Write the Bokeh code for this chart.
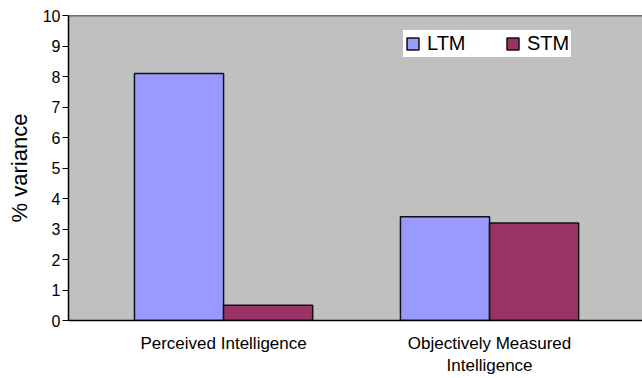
from bokeh.plotting import figure
from bokeh.models import Range1d, FixedTicker, Legend, LegendItem, Span
from bokeh.embed import file_html
from bokeh.resources import INLINE

# ---- data ----
categories = ["Perceived Intelligence", "Objectively Measured\nIntelligence"]
ltm = [8.1, 3.4]
stm = [0.5, 3.2]
series = ["LTM", "STM"]
y_ticks = [0, 1, 2, 3, 4, 5, 6, 7, 8, 9, 10]

# ---- styles ----
colors = ["#9999ff", "#993366"]
bar_w = 0.335
idx = list(range(len(categories)))

p = figure(width=642, height=378, output_backend="svg", toolbar_location=None,
           x_range=Range1d(-0.583, 1.575), y_range=Range1d(0, 10),
           min_border_left=68, min_border_right=0, min_border_top=15,
           min_border_bottom=58)

p.background_fill_color = "#c0c0c0"
p.border_fill_color = "white"
p.outline_line_color = None
p.grid.visible = False

r1 = p.vbar(x=[i - bar_w / 2 for i in idx], top=ltm, width=bar_w,
            fill_color=colors[0], line_color="#111111", line_width=1.5)
r2 = p.vbar(x=[i + bar_w / 2 for i in idx], top=stm, width=bar_w,
            fill_color=colors[1], line_color="#111111", line_width=1.5)

p.add_layout(Span(location=10, dimension="width", line_color="black", line_width=1.5))

# y axis
ya = p.yaxis[0]
ya.ticker = FixedTicker(ticks=y_ticks)
ya.axis_label = "% variance"
ya.axis_label_text_font = "Liberation Sans"
ya.axis_label_text_font_style = "normal"
ya.axis_label_text_font_size = "22px"
ya.axis_label_text_color = "black"
ya.axis_label_standoff = 8
ya.major_label_text_font = "Liberation Sans"
ya.major_label_text_font_size = "16px"
ya.major_label_text_color = "black"
ya.major_tick_in = 0
ya.major_tick_out = 6
ya.minor_tick_in = 0
ya.minor_tick_out = 0
ya.major_label_standoff = 2
ya.axis_line_width = 1.5
ya.axis_line_color = "black"
ya.major_tick_line_color = "black"

# x axis
xa = p.xaxis[0]
xa.ticker = FixedTicker(ticks=idx)
xa.major_label_overrides = {i: c for i, c in zip(idx, categories)}
xa.major_label_text_font = "Liberation Sans"
xa.major_label_text_font_size = "17px"
xa.major_label_text_color = "black"
xa.major_tick_in = 0
xa.major_tick_out = 0
xa.minor_tick_in = 0
xa.minor_tick_out = 0
xa.major_label_standoff = 13
xa.axis_line_width = 1.5
xa.axis_line_color = "black"

legend = Legend(items=[LegendItem(label=series[0], renderers=[r1]),
                       LegendItem(label=series[1], renderers=[r2])],
                orientation="horizontal", location=(334, 262))
legend.background_fill_color = "white"
legend.background_fill_alpha = 1.0
legend.border_line_color = "#808080"
legend.border_line_width = 1.5
legend.label_text_font = "Liberation Sans"
legend.label_text_font_size = "20px"
legend.label_text_color = "black"
legend.glyph_width = 15
legend.glyph_height = 15
legend.label_standoff = 7
legend.label_width = 42
legend.spacing = 36
legend.padding = 2
legend.margin = 0
p.add_layout(legend)

open("out.html", "w").write(file_html(p, INLINE))
